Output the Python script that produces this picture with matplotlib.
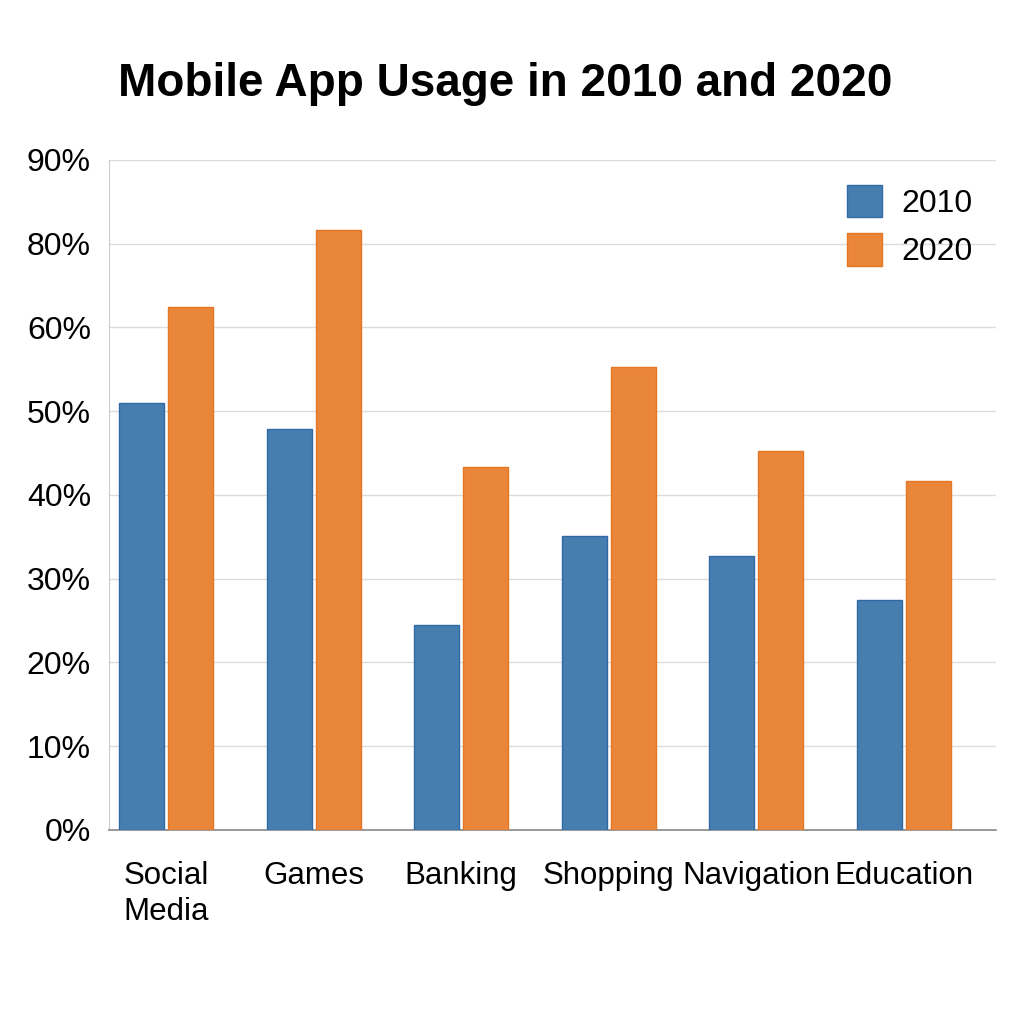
import numpy as np
import matplotlib
matplotlib.use("Agg")
import matplotlib.pyplot as plt

plt.rcParams['font.family'] = ['Liberation Sans', 'DejaVu Sans']

categories = ["Social\nMedia", "Games", "Banking", "Shopping", "Navigation", "Education"]
# heights in gridline units (one gridline step = 10)
usage_2010 = [51.0, 47.9, 24.5, 35.1, 32.7, 27.4]
usage_2020 = [62.4, 71.6, 43.3, 55.3, 45.3, 41.7]
tick_vals = [0, 10, 20, 30, 40, 50, 60, 70, 80]
tick_labels = ["0%", "10%", "20%", "30%", "40%", "50%", "60%", "80%", "90%"]

fig = plt.figure(figsize=(10.24, 10.24), dpi=100)
ax = fig.add_axes([0.1064, 0.1895, 0.8663, 0.6543])

x = np.arange(len(categories))
w = 0.305
off = 0.166
ax.bar(x - off, usage_2010, w, color="#477EB0", edgecolor="#2F6AA6", linewidth=1, label="2010", zorder=3)
ax.bar(x + off, usage_2020, w, color="#E9863A", edgecolor="#E57623", linewidth=1, label="2020", zorder=3)

ax.set_xlim(-0.386, 5.623)
ax.set_ylim(0, 80)
ax.set_yticks(tick_vals)
ax.set_yticklabels(tick_labels, fontsize=23)
ax.set_xticks(x)
ax.set_xticklabels(categories, fontsize=22.5, linespacing=1.3)
ax.tick_params(axis="y", length=0, pad=13)
ax.tick_params(axis="x", length=0, pad=22)
ax.grid(axis="y", color="#dcdcdc", linewidth=1, zorder=0)

for s in ["top", "right"]:
    ax.spines[s].set_visible(False)
ax.spines["left"].set_color("#cccccc")
ax.spines["bottom"].set_color("#888888")
ax.spines["bottom"].set_linewidth(1.2)

ax.legend(loc="upper right", bbox_to_anchor=(1.006, 1.006), frameon=False, fontsize=23,
          handlelength=1.1, handleheight=1.2, labelspacing=0.45, handletextpad=0.6)

fig.text(0.115, 0.918, "Mobile App Usage in 2010 and 2020", fontsize=33, fontweight="bold", va="center", ha="left")

fig.savefig("out.png", dpi=100, facecolor="white")
